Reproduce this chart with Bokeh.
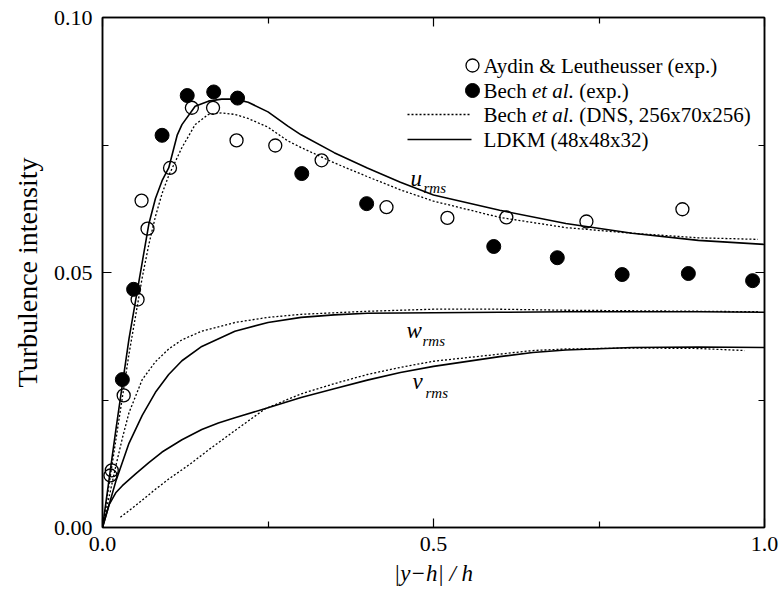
from bokeh.plotting import figure
from bokeh.models import Range1d, LinearAxis, FixedTicker, NumeralTickFormatter, Label, CustomJSTickFormatter
from bokeh.embed import file_html
from bokeh.resources import INLINE

# ---------------- data ----------------
aydin_x = [0.014, 0.012, 0.032, 0.053, 0.068, 0.059, 0.102, 0.135, 0.167, 0.2025, 0.261, 0.331, 0.429, 0.521, 0.610, 0.731, 0.876]
aydin_y = [0.0112, 0.0102, 0.0259, 0.0447, 0.0586, 0.0641, 0.0705, 0.0823, 0.0823, 0.0759, 0.0749, 0.0720, 0.0628, 0.0607, 0.0608, 0.0600, 0.0624]

bech_x = [0.030, 0.047, 0.090, 0.128, 0.168, 0.204, 0.301, 0.399, 0.591, 0.687, 0.785, 0.885, 0.982]
bech_y = [0.0290, 0.0467, 0.0769, 0.0847, 0.0854, 0.0842, 0.0694, 0.0635, 0.0551, 0.0529, 0.0496, 0.0498, 0.0484]

ldkm_u_x = [0.0, 0.01, 0.02, 0.03, 0.04, 0.05, 0.06, 0.07, 0.08, 0.09, 0.10, 0.113, 0.12, 0.14, 0.16, 0.18, 0.20, 0.22, 0.25, 0.28, 0.30, 0.35, 0.40, 0.45, 0.50, 0.60, 0.70, 0.80, 0.90, 1.00]
ldkm_u_y = [0.0, 0.0095, 0.019, 0.028, 0.037, 0.0445, 0.052, 0.0595, 0.0645, 0.068, 0.0705, 0.0770, 0.0790, 0.0826, 0.0836, 0.0840, 0.0840, 0.0834, 0.0815, 0.0787, 0.0770, 0.0735, 0.0705, 0.0677, 0.0652, 0.0622, 0.0596, 0.0577, 0.0563, 0.0555]

dns_u_x = [0.0, 0.01, 0.02, 0.03, 0.04, 0.05, 0.06, 0.07, 0.08, 0.09, 0.10, 0.12, 0.14, 0.16, 0.18, 0.20, 0.22, 0.25, 0.28, 0.30, 0.35, 0.40, 0.45, 0.50, 0.60, 0.70, 0.80, 0.90, 0.99]
dns_u_y = [0.0, 0.0085, 0.017, 0.0255, 0.034, 0.0415, 0.049, 0.0555, 0.061, 0.0655, 0.069, 0.0745, 0.0790, 0.0810, 0.0813, 0.0810, 0.0802, 0.0785, 0.0758, 0.0745, 0.0715, 0.0688, 0.0662, 0.0640, 0.0608, 0.0588, 0.0577, 0.0568, 0.0565]

ldkm_w_x = [0.0, 0.02, 0.04, 0.06, 0.08, 0.10, 0.12, 0.15, 0.20, 0.25, 0.30, 0.35, 0.40, 0.50, 0.60, 0.70, 0.80, 0.90, 1.00]
ldkm_w_y = [0.0, 0.009, 0.0165, 0.022, 0.0265, 0.030, 0.0327, 0.0355, 0.0385, 0.0402, 0.0412, 0.0417, 0.0420, 0.0421, 0.0422, 0.0423, 0.0423, 0.0423, 0.0422]

dns_w_x = [0.0, 0.01, 0.02, 0.03, 0.04, 0.06, 0.08, 0.10, 0.12, 0.15, 0.20, 0.25, 0.30, 0.40, 0.50, 0.60, 0.70, 0.80, 0.90, 0.99]
dns_w_y = [0.0, 0.006, 0.012, 0.0175, 0.0225, 0.029, 0.0325, 0.035, 0.0368, 0.0385, 0.0402, 0.0412, 0.0418, 0.0424, 0.0428, 0.0428, 0.0426, 0.0425, 0.0424, 0.0423]

ldkm_v_x = [0.0, 0.01, 0.02, 0.03, 0.05, 0.07, 0.09, 0.12, 0.15, 0.175, 0.20, 0.25, 0.30, 0.35, 0.40, 0.45, 0.50, 0.60, 0.65, 0.70, 0.80, 0.90, 1.00]
ldkm_v_y = [0.0, 0.0045, 0.0068, 0.0082, 0.0105, 0.0127, 0.0148, 0.0172, 0.0192, 0.0205, 0.0215, 0.0235, 0.0255, 0.0272, 0.0289, 0.0304, 0.0316, 0.0335, 0.0343, 0.0348, 0.0353, 0.0354, 0.0353]

dns_v_x = [0.027, 0.05, 0.08, 0.10, 0.133, 0.16, 0.20, 0.246, 0.30, 0.35, 0.40, 0.45, 0.50, 0.60, 0.65, 0.70, 0.80, 0.90, 0.97]
dns_v_y = [0.002, 0.0043, 0.0075, 0.0095, 0.0125, 0.0152, 0.019, 0.0233, 0.0262, 0.0282, 0.0300, 0.0314, 0.0326, 0.0340, 0.0347, 0.0350, 0.0352, 0.0351, 0.0347]

x_ticks = [0.0, 0.5, 1.0]
x_minor = [0.25, 0.75]
y_ticks = [0.0, 0.05, 0.10]
y_minor = [0.025, 0.075]

legend_labels = [
    [("Aydin & Leutheusser (exp.)", False)],
    [("Bech ", False), ("et al.", True), (" (exp.)", False)],
    [("Bech ", False), ("et al.", True), (" (DNS, 256x70x256)", False)],
    [("LDKM (48x48x32)", False)],
]
y_label = "Turbulence intensity"
x_label = "|y\u2212h| / h"

# ---------------- layout / style ----------------
W, H = 780, 592
L, R, T, B = 102, 16, 17, 65
FONT = "Liberation Serif"
XMAX, YMAX = 1.0, 0.10
FW, FH = W - L - R, H - T - B


def dx(px):
    return (px - L) / FW * XMAX


def dy(py):
    return (H - B - py) / FH * YMAX


REG = {' ': 250, '(': 333, ')': 333, '.': 250, ',': 250, '&': 778, 'A': 722, 'B': 667, 'D': 722,
       'K': 722, 'L': 611, 'M': 889, 'N': 722, 'S': 556, 'a': 444, 'b': 500, 'c': 444, 'd': 500,
       'e': 444, 'h': 500, 'i': 278, 'l': 278, 'n': 500, 'p': 500, 'r': 333, 's': 389, 't': 278,
       'u': 500, 'x': 500, 'y': 500, '|': 200, '/': 278, '\u2212': 564}
ITA = {' ': 250, 'e': 444, 't': 278, 'a': 500, 'l': 278, '.': 250, 'y': 444, 'h': 500}


def width(s, italic, size):
    tab = ITA if italic else REG
    return sum(tab.get(c, 500) for c in s) / 1000.0 * size


p = figure(width=W, height=H, output_backend="svg", toolbar_location=None,
           x_range=Range1d(0, XMAX), y_range=Range1d(0, YMAX),
           min_border_left=L, min_border_right=R, min_border_top=T, min_border_bottom=B,
           background_fill_color="white", border_fill_color="white")
p.grid.visible = False
p.outline_line_color = "black"
p.outline_line_width = 1.5

xt = FixedTicker(ticks=x_ticks, minor_ticks=x_minor)
yt = FixedTicker(ticks=y_ticks, minor_ticks=y_minor)


def style_axis(ax, ticker, fmt, show_labels):
    ax.ticker = ticker
    ax.axis_line_color = "black"
    ax.axis_line_width = 1.5
    ax.major_tick_line_color = "black"
    ax.minor_tick_line_color = "black"
    ax.major_tick_line_width = 1.2
    ax.minor_tick_line_width = 1.2
    ax.major_tick_in = 9
    ax.major_tick_out = 0
    ax.minor_tick_in = 6
    ax.minor_tick_out = 0
    if show_labels:
        ax.formatter = NumeralTickFormatter(format=fmt)
        ax.major_label_text_font = FONT
        ax.major_label_text_font_size = "22px"
        ax.major_label_text_color = "black"
    else:
        ax.formatter = CustomJSTickFormatter(code="return ''")
        ax.major_label_text_font_size = "1px"
        ax.major_label_standoff = 0


style_axis(p.xaxis[0], xt, "0.0", True)
p.xaxis[0].major_label_standoff = 9
p.xaxis[0].axis_label = x_label
p.xaxis[0].axis_label_text_font = FONT
p.xaxis[0].axis_label_text_font_size = "23px"
p.xaxis[0].axis_label_text_font_style = "italic"
p.xaxis[0].axis_label_text_color = "black"
p.xaxis[0].axis_label_standoff = 7

style_axis(p.yaxis[0], yt, "0.00", True)
p.yaxis[0].major_label_standoff = 10
p.yaxis[0].axis_label = y_label
p.yaxis[0].axis_label_text_font = FONT
p.yaxis[0].axis_label_text_font_size = "28px"
p.yaxis[0].axis_label_text_font_style = "normal"
p.yaxis[0].axis_label_text_color = "black"
p.yaxis[0].axis_label_standoff = 8

top = LinearAxis()
style_axis(top, xt, None, False)
p.add_layout(top, "above")
right = LinearAxis()
style_axis(right, yt, None, False)
p.add_layout(right, "right")

# curves
SOLID_W, DOT_W, DOT = 1.6, 1.3, "2 2"
p.line(ldkm_u_x, ldkm_u_y, line_color="black", line_width=SOLID_W)
p.line(dns_u_x, dns_u_y, line_color="black", line_width=DOT_W, line_dash=DOT)
p.line(ldkm_w_x, ldkm_w_y, line_color="black", line_width=SOLID_W)
p.line(dns_w_x, dns_w_y, line_color="black", line_width=DOT_W, line_dash=DOT)
p.line(ldkm_v_x, ldkm_v_y, line_color="black", line_width=SOLID_W)
p.line(dns_v_x, dns_v_y, line_color="black", line_width=DOT_W, line_dash=DOT)

# points
OPEN_S, FILL_S = 13, 14
p.scatter(aydin_x, aydin_y, marker="circle", size=OPEN_S, fill_alpha=0,
          line_color="black", line_width=1.3)
p.scatter(bech_x, bech_y, marker="circle", size=FILL_S, fill_color="black", line_color="black")

# legend (manual)
LEG_TEXT_X = 483
LEG_MARK_X = 472
LEG_LINE = (407, 471)
LEG_ROWS = [65, 90, 114, 139]
LEG_FS = 21
p.scatter([dx(LEG_MARK_X)], [dy(LEG_ROWS[0])], marker="circle", size=OPEN_S, fill_alpha=0,
          line_color="black", line_width=1.3)
p.scatter([dx(LEG_MARK_X)], [dy(LEG_ROWS[1])], marker="circle", size=FILL_S,
          fill_color="black", line_color="black")
p.line([dx(LEG_LINE[0]), dx(LEG_LINE[1])], [dy(LEG_ROWS[2])] * 2, line_color="black",
       line_width=DOT_W, line_dash=DOT)
p.line([dx(LEG_LINE[0]), dx(LEG_LINE[1])], [dy(LEG_ROWS[3])] * 2, line_color="black",
       line_width=SOLID_W)


def put_segments(parts, x0, yrow, size):
    x = x0
    for s, it in parts:
        lead = len(s) - len(s.lstrip(" "))
        x += width(" " * lead, it, size)
        s2 = s.lstrip(" ")
        p.add_layout(Label(x=dx(x), y=dy(yrow), text=s2, text_font=FONT,
                           text_font_size=f"{size}px", text_color="black",
                           text_font_style="italic" if it else "normal",
                           text_baseline="middle", text_align="left"))
        x += width(s2, it, size)


for parts, yrow in zip(legend_labels, LEG_ROWS):
    put_segments(parts, LEG_TEXT_X, yrow, LEG_FS)

# curve labels
CL_MAIN, CL_SUB = 23, 15
for main, mx, my, sx, sy in [("u", 410, 178, 423, 187),
                             ("w", 406, 330, 422, 340),
                             ("v", 412, 381, 425, 392)]:
    p.add_layout(Label(x=dx(mx), y=dy(my), text=main, text_font=FONT,
                       text_font_size=f"{CL_MAIN}px", text_font_style="italic",
                       text_baseline="alphabetic", text_color="black"))
    p.add_layout(Label(x=dx(sx), y=dy(sy), text="rms", text_font=FONT,
                       text_font_size=f"{CL_SUB}px", text_font_style="italic",
                       text_baseline="alphabetic", text_color="black"))

open("out.html", "w").write(file_html(p, INLINE))
